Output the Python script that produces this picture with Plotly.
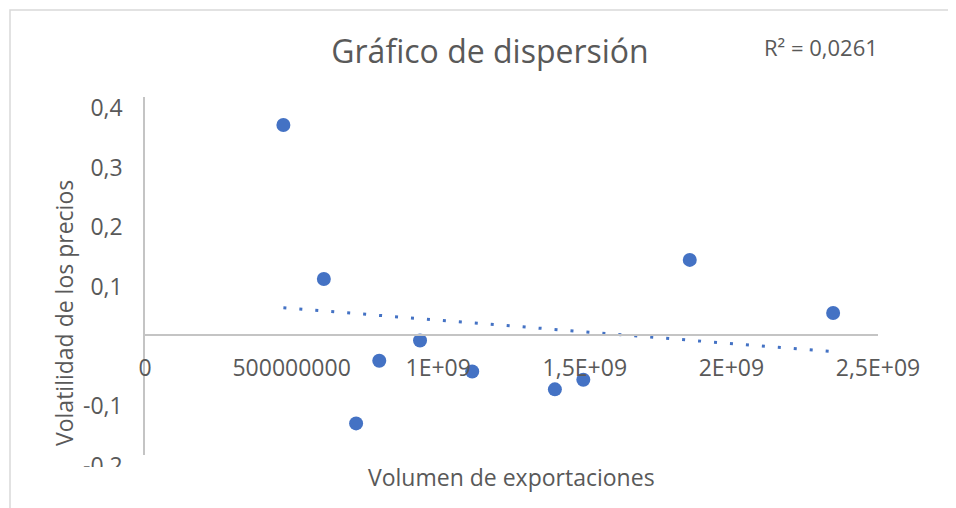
import numpy as np
import plotly.graph_objects as go

# ---- data ----
volumen = [4.72e8, 6.10e8, 9.38e8, 7.99e8, 7.20e8, 1.116e9, 1.398e9, 1.495e9, 1.858e9, 2.347e9]
volatilidad = [0.353, 0.095, -0.008, -0.042, -0.147, -0.060, -0.090, -0.074, 0.127, 0.038]

x_tickvals = [0, 5e8, 1e9, 1.5e9, 2e9, 2.5e9]
x_ticktext = ["0", "500000000", "1E+09", "1,5E+09", "2E+09", "2,5E+09"]
y_tickvals = [0.4, 0.3, 0.2, 0.1, -0.1, -0.2]
y_ticktext = ["0,4", "0,3", "0,2", "0,1", "-0,1", "-0,2"]

titulo = "Gráfico de dispersión"
titulo_x = "Volumen de exportaciones"
titulo_y = "Volatilidad de los precios"
r2_texto = "R² = 0,0261"

# ---- layout geometry (screen pixels; page body has an 8px margin) ----
O = 8
W, H = 956 - O, 508 - O
L, R, T, B = 145 - O, 878 - O, 97 - O, 455 - O
FONT = "Open Sans"
TXT = "#595959"
BLUE = "#4472C4"
AX = "#c4c4c4"

def px(xp):
    return (xp - O - L) / (R - L)

def py(yp):
    return (B - (yp - O)) / (B - T)

# trend line from linear fit
slope, intercept = np.polyfit(volumen, volatilidad, 1)
tx = [min(volumen), max(volumen)]
ty = [slope * v + intercept for v in tx]

fig = go.Figure()
fig.add_trace(go.Scatter(
    x=tx, y=ty, mode="lines",
    line=dict(color=BLUE, width=3, dash="3px,13px"),
    hoverinfo="skip", showlegend=False,
))
fig.add_trace(go.Scatter(
    x=volumen, y=volatilidad, mode="markers",
    marker=dict(color=BLUE, size=14, line=dict(width=0)),
    showlegend=False,
))

fig.update_layout(
    width=W, height=H,
    margin=dict(l=L, r=W - R, t=T, b=H - B, pad=0),
    paper_bgcolor="white", plot_bgcolor="white",
    font=dict(family=FONT, color=TXT),
    separators=", ",
    title=dict(text=titulo, x=(490 - O) / W, y=1 - (52 - O) / H, xref="container", yref="container",
               xanchor="center", yanchor="middle", font=dict(size=32, color=TXT, family=FONT)),
    xaxis=dict(range=[0, 2.5e9], tickvals=x_tickvals, ticktext=x_ticktext,
               showgrid=False, zeroline=False, showline=True, linecolor=AX, linewidth=1.5,
               anchor="free", position=py(335), ticks="", ticklabelstandoff=13,
               tickfont=dict(size=23, color=TXT, family=FONT)),
    yaxis=dict(range=[-0.2, 0.4], tickvals=y_tickvals, ticktext=y_ticktext,
               showgrid=False, zeroline=False, showline=True, linecolor=AX, linewidth=1.5,
               ticks="", ticklabelshift=11, ticklabelstandoff=16,
               tickfont=dict(size=23, color=TXT, family=FONT)),
    shapes=[
        dict(type="rect", xref="paper", yref="paper", x0=px(10), x1=px(975), y0=py(10), y1=py(530),
             line=dict(color="#d9d9d9", width=1.5), fillcolor="rgba(0,0,0,0)", layer="below"),
        dict(type="rect", xref="paper", yref="paper", x0=px(80), x1=px(140), y0=py(467), y1=py(490),
             line=dict(width=0), fillcolor="white", layer="above"),
    ],
    annotations=[
        dict(text=r2_texto, xref="paper", yref="paper", x=px(821), y=py(47),
             xanchor="center", yanchor="middle", showarrow=False,
             font=dict(size=22, color=TXT, family=FONT)),
        dict(text=titulo_x, xref="paper", yref="paper", x=px(511), y=py(477),
             xanchor="center", yanchor="middle", showarrow=False,
             font=dict(size=23, color=TXT, family=FONT)),
        dict(text=titulo_y, xref="paper", yref="paper", x=px(64), y=py(313),
             xanchor="center", yanchor="middle", showarrow=False, textangle=-90,
             font=dict(size=23, color=TXT, family=FONT)),
    ],
)

fig.write_html("out.html")
